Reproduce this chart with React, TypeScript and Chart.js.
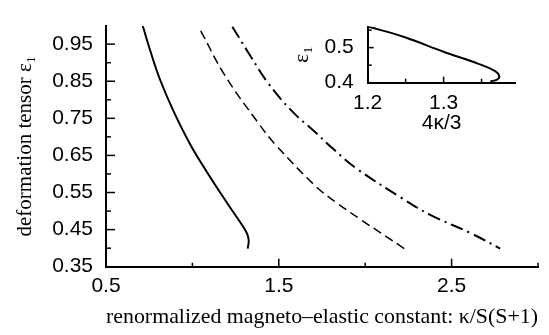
import React, { useEffect, useRef } from 'react';
import { Chart, registerables } from 'chart.js';

Chart.register(...registerables);

// ---- main plot data ----
const solidX = [0.713, 0.759, 0.813, 0.89, 0.986, 1.083, 1.199, 1.295, 1.318, 1.326, 1.32];
const solidY = [0.999, 0.928, 0.854, 0.77, 0.681, 0.606, 0.523, 0.457, 0.437, 0.42, 0.399];

const dashedX = [1.048, 1.189, 1.382, 1.479, 1.72, 1.836, 1.971, 2.226];
const dashedY = [0.986, 0.865, 0.737, 0.68, 0.564, 0.522, 0.478, 0.399];

const dashDotX = [1.231, 1.324, 1.44, 1.575, 1.71, 1.816, 1.952, 2.212, 2.376, 2.608, 2.781];
const dashDotY = [0.997, 0.927, 0.844, 0.77, 0.713, 0.667, 0.614, 0.535, 0.49, 0.441, 0.399];

const xMajorTicks = [0.5, 1.5, 2.5];
const xTickLabels = ['0.5', '1.5', '2.5'];
const xMinorTicks = [1.0, 2.0, 3.0];
const yMajorTicks = [0.35, 0.45, 0.55, 0.65, 0.75, 0.85, 0.95];
const yTickLabels = ['0.35', '0.45', '0.55', '0.65', '0.75', '0.85', '0.95'];
const yMinorTicks = [0.4, 0.5, 0.6, 0.7, 0.8, 0.9];

// ---- inset data ----
const insetX = [1.2008, 1.249, 1.2999, 1.346, 1.368, 1.3735, 1.3704, 1.3616];
const insetY = [0.56, 0.5295, 0.4882, 0.4537, 0.433, 0.418, 0.409, 0.4035];

const insetXMajorTicks = [1.2, 1.3];
const insetXTickLabels = ['1.2', '1.3'];
const insetXMinorTicks = [1.25, 1.35];
const insetYMajorTicks = [0.4, 0.5];
const insetYTickLabels = ['0.4', '0.5'];
const insetYMinorTicks = [0.45, 0.55];

const SANS = 'Liberation Sans, Arial, Helvetica, sans-serif';
const SERIF = 'Liberation Serif, Times New Roman, serif';

const zip = (xs: number[], ys: number[]) => xs.map((x, i) => ({ x, y: ys[i] }));

const buildTicks = (major: number[], minor: number[]) => (scale: any) => {
  scale.ticks = [
    ...major.map((v) => ({ value: v, major: true })),
    ...minor.map((v) => ({ value: v, major: false })),
  ].sort((a, b) => a.value - b.value);
};

const labelFor = (major: number[], labels: string[]) => (value: any) => {
  const i = major.findIndex((m) => Math.abs(m - Number(value)) < 1e-9);
  return i >= 0 ? labels[i] : '';
};

const tickMarks = {
  id: 'tickMarks',
  afterDraw(chart: any, _args: any, opts: any) {
    const { ctx, chartArea } = chart;
    const xs = chart.scales.x;
    const ys = chart.scales.y;
    ctx.save();
    ctx.strokeStyle = '#000';
    ctx.lineWidth = opts.width || 1.5;
    for (const t of xs.ticks) {
      const px = xs.getPixelForValue(t.value);
      const len = t.major ? opts.xMajor : opts.xMinor;
      ctx.beginPath();
      ctx.moveTo(px, chartArea.bottom);
      ctx.lineTo(px, chartArea.bottom - len);
      ctx.stroke();
    }
    for (const t of ys.ticks) {
      const py = ys.getPixelForValue(t.value);
      const len = t.major ? opts.yMajor : opts.yMinor;
      ctx.beginPath();
      ctx.moveTo(chartArea.left, py);
      ctx.lineTo(chartArea.left + len, py);
      ctx.stroke();
    }
    ctx.restore();
  },
};

export default function App() {
  const mainRef = useRef<HTMLCanvasElement | null>(null);
  const insetRef = useRef<HTMLCanvasElement | null>(null);

  useEffect(() => {
    const line = {
      borderColor: '#000',
      pointRadius: 0,
      fill: false,
      tension: 0.4,
    };
    const main = new Chart(mainRef.current as HTMLCanvasElement, {
      type: 'line',
      data: {
        datasets: [
          { ...line, data: zip(solidX, solidY), borderWidth: 2 },
          { ...line, data: zip(dashedX, dashedY), borderWidth: 1.5, borderDash: [9, 5] },
          { ...line, data: zip(dashDotX, dashDotY), borderWidth: 2, borderDash: [13, 5, 2, 5] },
        ],
      },
      options: {
        responsive: false,
        animation: false,
        devicePixelRatio: 1,
        layout: { padding: { top: 4, right: 11, left: 0, bottom: 0 } },
        plugins: {
          legend: { display: false },
          tooltip: { enabled: false },
          tickMarks: { xMajor: 8, xMinor: 4, yMajor: 9, yMinor: 5, width: 1.5 },
        } as any,
        scales: {
          x: {
            type: 'linear',
            position: 'bottom',
            min: 0.5,
            max: 3.0,
            afterBuildTicks: buildTicks(xMajorTicks, xMinorTicks),
            afterFit: (s: any) => {
              s.height = 68.3;
            },
            grid: { display: false, drawTicks: false },
            border: { display: true, color: '#000', width: 2 },
            ticks: {
              autoSkip: false,
              maxRotation: 0,
              minRotation: 0,
              padding: 7,
              color: '#000',
              font: { family: SANS, size: 21 },
              callback: labelFor(xMajorTicks, xTickLabels),
            },
            title: {
              display: true,
              text: 'renormalized magneto\u2013elastic constant: \u03ba/S(S+1)',
              color: '#000',
              font: { family: SERIF, size: 22 },
              padding: { top: 0, bottom: 4.5 },
            },
          },
          y: {
            type: 'linear',
            min: 0.35,
            max: 1.0,
            afterBuildTicks: buildTicks(yMajorTicks, yMinorTicks),
            afterFit: (s: any) => {
              s.width = 106;
            },
            grid: { display: false, drawTicks: false },
            border: { display: true, color: '#000', width: 2 },
            ticks: {
              autoSkip: false,
              padding: 13,
              color: '#000',
              font: { family: SANS, size: 21 },
              callback: labelFor(yMajorTicks, yTickLabels),
            },
            title: {
              display: true,
              text: 'deformation tensor \u03b5\u2081',
              color: '#000',
              font: { family: SERIF, size: 21 },
              padding: { top: 12.6, bottom: 0 },
            },
          },
        },
      } as any,
      plugins: [tickMarks],
    });

    const inset = new Chart(insetRef.current as HTMLCanvasElement, {
      type: 'line',
      data: {
        datasets: [{ ...line, data: zip(insetX, insetY), borderWidth: 2 }],
      },
      options: {
        responsive: false,
        animation: false,
        devicePixelRatio: 1,
        layout: { padding: { top: 5, right: 33.3, left: 0, bottom: 0 } },
        plugins: {
          legend: { display: false },
          tooltip: { enabled: false },
          tickMarks: { xMajor: 6, xMinor: 4, yMajor: 6, yMinor: 4, width: 1.5 },
        } as any,
        scales: {
          x: {
            type: 'linear',
            position: 'bottom',
            min: 1.2,
            max: 1.395,
            afterBuildTicks: buildTicks(insetXMajorTicks, insetXMinorTicks),
            afterFit: (s: any) => {
              s.height = 57.3;
            },
            grid: { display: false, drawTicks: false },
            border: { display: true, color: '#000', width: 2 },
            ticks: {
              autoSkip: false,
              maxRotation: 0,
              minRotation: 0,
              padding: 8,
              color: '#000',
              font: { family: SANS, size: 21 },
              callback: labelFor(insetXMajorTicks, insetXTickLabels),
            },
            title: {
              display: true,
              text: '4\u03ba/3',
              color: '#000',
              font: { family: SANS, size: 21 },
              padding: { top: 0, bottom: 4.5 },
            },
          },
          y: {
            type: 'linear',
            min: 0.4,
            max: 0.56,
            afterBuildTicks: buildTicks(insetYMajorTicks, insetYMinorTicks),
            afterFit: (s: any) => {
              s.width = 87.7;
            },
            grid: { display: false, drawTicks: false },
            border: { display: true, color: '#000', width: 2 },
            ticks: {
              autoSkip: false,
              padding: 14,
              color: '#000',
              font: { family: SANS, size: 21 },
              callback: labelFor(insetYMajorTicks, insetYTickLabels),
            },
            title: {
              display: true,
              text: '\u03b5\u2081',
              color: '#000',
              font: { family: SERIF, size: 22 },
              padding: { top: 9, bottom: 0 },
            },
          },
        },
      } as any,
      plugins: [tickMarks],
    });

    return () => {
      main.destroy();
      inset.destroy();
    };
  }, []);

  return (
    <div style={{ position: 'absolute', left: 0, top: 0, width: 549, height: 335, background: '#fff' }}>
      <canvas ref={mainRef} width={549} height={335} style={{ position: 'absolute', left: 0, top: 0 }} />
      <canvas ref={insetRef} width={269} height={140} style={{ position: 'absolute', left: 280, top: 0 }} />
    </div>
  );
}
